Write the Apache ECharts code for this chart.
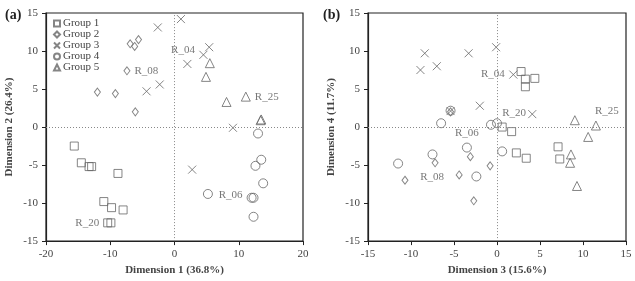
<!DOCTYPE html>
<html>
<head>
<meta charset="utf-8">
<script src="https://cdn.jsdelivr.net/npm/echarts@6/dist/echarts.min.js"></script>
<style>
  html, body { margin: 0; padding: 0; background: #fff; }
  #chart { width: 635px; height: 281px; }
</style>
</head>
<body>
<div id="chart"></div>
<script>
// group names
const groups = ['Group 1', 'Group 2', 'Group 3', 'Group 4', 'Group 5'];

// panel (a): dimension 1 vs dimension 2
const g1A = [[-15.6,-2.5],[-14.5,-4.7],[-13.3,-5.2],[-12.9,-5.2],[-8.8,-6.1],[-11.0,-9.8],[-9.8,-10.6],[-8.0,-10.9],[-10.4,-12.6,'R_20'],[-9.9,-12.6]];
const g2A = [[-12.0,4.6],[-9.2,4.4],[-6.9,10.95],[-6.2,10.6],[-5.6,11.5],[-7.4,7.4,'R_08'],[-6.1,2.0]];
const g3A = [[-2.6,13.1],[-4.35,4.7],[-2.3,5.6],[1.0,14.2],[2.0,8.3],[4.5,9.5,'R_04'],[5.4,10.5],[9.1,-0.1],[2.75,-5.6]];
const g4A = [[13.0,-0.85],[13.5,-4.3],[12.6,-5.1],[13.8,-7.4],[5.2,-8.8],[12.0,-9.3,'R_06'],[12.3,-9.3],[12.3,-11.8]];
const g5A = [[5.5,8.4],[4.9,6.6],[8.1,3.3],[11.1,4.0,'R_25'],[13.4,0.9],[13.5,1.0]];

// panel (b): dimension 3 vs dimension 4
const g1B = [[2.8,7.3],[3.3,6.3],[3.3,5.3],[4.4,6.4],[0.6,0.0,'R_20'],[1.7,-0.6],[2.25,-3.4],[3.4,-4.1],[7.1,-2.6],[7.3,-4.2]];
const g2B = [[-5.4,2.0],[-7.2,-4.7,'R_08'],[-10.7,-7.0],[-4.4,-6.3],[-3.1,-3.9],[-0.8,-5.1],[-2.7,-9.7]];
const g3B = [[-8.9,7.5],[-8.4,9.7],[-7.0,8.0],[-3.3,9.7],[-0.1,10.5],[1.9,6.9,'R_04'],[-2.0,2.8],[4.1,1.7],[-5.4,2.1]];
const g4B = [[-6.5,0.5],[-5.4,2.15],[-0.7,0.3],[0.0,0.5],[-3.5,-2.7,'R_06'],[0.6,-3.2],[-7.5,-3.6],[-11.5,-4.8],[-2.4,-6.5]];
const g5B = [[9.05,0.9],[11.5,0.2,'R_25'],[10.6,-1.3],[8.6,-3.6],[8.5,-4.7],[9.3,-7.75]];

// axis ranges / ticks
const xTicksA = [-20, 20, 10];
const xTicksB = [-15, 15, 5];
const yTicks = [-15, 15, 5];

const FONT = 'Liberation Serif';
const MARK = '#666';

const symbols = ['rect', 'diamond', 'path://M0,0L10,10M10,0L0,10', 'circle', 'triangle'];
const sizes = [8, [6, 8], 8, 9, 9];

// where the point labels go
const labelPos = [
  { R_20: ['left', [0, 0]], R_08: ['right', [0, 0]], R_04: ['left', [0, -5]], R_06: ['left', [0, -3]], R_25: ['right', [0, 0]] },
  { R_20: ['top', [12, 0]], R_08: ['bottom', [-3, 0]], R_04: ['left', [0, 0]], R_06: ['top', [0, 0]], R_25: ['top', [11, 0]] }
];

function toItems(arr, panel) {
  return arr.map(p => {
    const it = { value: [p[0], p[1]] };
    if (p[2]) {
      const lp = labelPos[panel][p[2]];
      it.label = {
        show: true, formatter: p[2], position: lp[0], offset: lp[1], distance: 4,
        color: '#555', fontFamily: FONT, fontSize: 11
      };
    }
    return it;
  });
}

const panels = [[g1A, g2A, g3A, g4A, g5A], [g1B, g2B, g3B, g4B, g5B]];
const series = [];
panels.forEach((pd, pi) => {
  pd.forEach((arr, gi) => {
    series.push({
      name: groups[gi],
      type: 'scatter',
      xAxisIndex: pi,
      yAxisIndex: pi,
      symbol: symbols[gi],
      symbolSize: sizes[gi],
      itemStyle: { color: 'transparent', borderColor: MARK, borderWidth: 1 },
      emphasis: { disabled: true },
      data: toItems(arr, pi),
      z: 3
    });
  });
  // dotted zero lines
  series.push({
    type: 'scatter', xAxisIndex: pi, yAxisIndex: pi, data: [], silent: true,
    markLine: {
      silent: true, symbol: 'none', label: { show: false },
      lineStyle: { color: '#888', type: [1, 2], width: 1 },
      data: [{ xAxis: 0 }, { yAxis: 0 }]
    }
  });
});

const axisCommon = {
  axisLine: { show: true, onZero: false, lineStyle: { color: '#222', width: 1.2 } },
  axisTick: { show: true, length: 4, lineStyle: { color: '#222' } },
  splitLine: { show: false },
  axisLabel: { color: '#444', fontFamily: FONT, fontSize: 11 },
  nameTextStyle: { color: '#444', fontFamily: FONT, fontSize: 11, fontWeight: 'bold' },
  nameLocation: 'middle'
};

const chart = echarts.init(document.getElementById('chart'));
chart.setOption({
  animation: false,
  backgroundColor: '#fff',
  title: [
    { text: '(a)', left: 0, top: 3, textStyle: { fontFamily: FONT, fontSize: 14, fontWeight: 'bold', color: '#222' } },
    { text: '(b)', left: 318, top: 3, textStyle: { fontFamily: FONT, fontSize: 14, fontWeight: 'bold', color: '#222' } }
  ],
  legend: {
    data: groups, orient: 'vertical', left: 48, top: 13, itemGap: 0,
    itemWidth: 6, itemHeight: 6,
    textStyle: { fontFamily: FONT, fontSize: 11, lineHeight: 10, color: '#444', padding: [0, 0, 0, -2] }
  },
  grid: [
    { left: 46, top: 13, width: 257, height: 236, show: true, borderColor: '#222', borderWidth: 1.2 },
    { left: 368, top: 13, width: 258, height: 236, show: true, borderColor: '#222', borderWidth: 1.2 }
  ],
  xAxis: [
    Object.assign({}, axisCommon, { gridIndex: 0, type: 'value', min: xTicksA[0], max: xTicksA[1], interval: xTicksA[2], name: 'Dimension 1 (36.8%)', nameGap: 20 }),
    Object.assign({}, axisCommon, { gridIndex: 1, type: 'value', min: xTicksB[0], max: xTicksB[1], interval: xTicksB[2], name: 'Dimension 3 (15.6%)', nameGap: 20 })
  ],
  yAxis: [
    Object.assign({}, axisCommon, { gridIndex: 0, type: 'value', min: yTicks[0], max: yTicks[1], interval: yTicks[2], name: 'Dimension 2 (26.4%)', nameGap: 31 }),
    Object.assign({}, axisCommon, { gridIndex: 1, type: 'value', min: yTicks[0], max: yTicks[1], interval: yTicks[2], name: 'Dimension 4 (11.7%)', nameGap: 31 })
  ],
  series: series
});
</script>
</body>
</html>
